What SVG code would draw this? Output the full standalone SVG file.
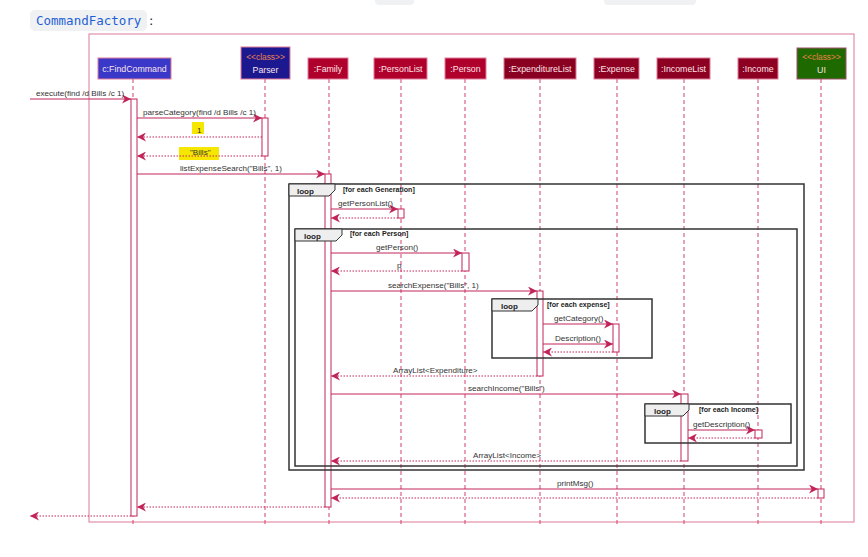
<svg xmlns="http://www.w3.org/2000/svg" width="868" height="557" viewBox="0 0 868 557">
<defs>
<style>
.msg{font-family:"Liberation Sans",Arial,sans-serif;font-size:8.1px;fill:#333}
.pt{font-family:"Liberation Sans",Arial,sans-serif;font-size:8.8px;fill:#fbe3e8;text-anchor:middle}
.st{font-family:"Liberation Sans",Arial,sans-serif;font-size:8.4px;fill:#e8804a;text-anchor:middle}
.ll{stroke:#d2426c;stroke-width:1;stroke-dasharray:4,3;fill:none}
.act{fill:#fff;stroke:#c2245a;stroke-width:1}
.sol{stroke:#c2245a;stroke-width:1;fill:none}
.ret{stroke:#c2245a;stroke-width:1;stroke-dasharray:1.5,1.5;fill:none}
.loop{fill:none;stroke:#333;stroke-width:1.5}
.tab{fill:#eee;stroke:#333;stroke-width:1}
.lt{font-family:"Liberation Sans",Arial,sans-serif;font-size:8px;font-weight:bold;fill:#222}
.gt{font-family:"Liberation Sans",Arial,sans-serif;font-size:7.1px;font-weight:bold;fill:#222}
.box{stroke:#e07a9a;stroke-width:1}
</style>
<marker id="ah" viewBox="0 0 10 10" refX="10" refY="5" markerWidth="9" markerHeight="9" markerUnits="userSpaceOnUse" orient="auto">
<path d="M0,0 L10,5 L0,10 L3,5 Z" fill="#c2245a"/>
</marker>
</defs>
<rect width="868" height="557" fill="#fff"/>
<!-- partial text above -->
<rect x="375" y="-10" width="39" height="15" rx="4" fill="#eff1f3"/>
<rect x="604" y="-10" width="92" height="15" rx="4" fill="#eff1f3"/>
<rect x="30" y="10" width="117" height="21" rx="5" fill="#eff1f3"/>
<text x="36" y="25" style="font-family:'DejaVu Sans Mono','Liberation Mono',monospace;font-size:12.5px;fill:#1f5fd6">CommandFactory</text>
<text x="149" y="25" style="font-family:'DejaVu Sans','Liberation Sans',sans-serif;font-size:13px;fill:#222">:</text>
<!-- frame -->
<rect x="89" y="34" width="765" height="488" fill="none" stroke="#e090a8" stroke-width="1.2"/>
<!-- lifelines -->
<g id="lifelines">
<line class="ll" x1="133" y1="79" x2="133" y2="524"/>
<line class="ll" x1="265" y1="79" x2="265" y2="524"/>
<line class="ll" x1="329" y1="79" x2="329" y2="524"/>
<line class="ll" x1="401" y1="79" x2="401" y2="524"/>
<line class="ll" x1="465" y1="79" x2="465" y2="524"/>
<line class="ll" x1="540" y1="79" x2="540" y2="524"/>
<line class="ll" x1="617" y1="79" x2="617" y2="524"/>
<line class="ll" x1="684" y1="79" x2="684" y2="524"/>
<line class="ll" x1="758" y1="79" x2="758" y2="524"/>
<line class="ll" x1="821" y1="79" x2="821" y2="524"/>
</g>
<!-- participants -->
<g id="findcommand"><rect class="box" x="98" y="58" width="73" height="21" fill="#3a38c8"/><text class="pt" x="134.5" y="71.5">c:FindCommand</text></g>
<g id="parser"><rect class="box" x="241" y="47" width="49" height="32" fill="#1c1890"/><text class="st" x="265.5" y="60">&lt;&lt;class&gt;&gt;</text><text class="pt" x="265.5" y="72.5">Parser</text></g>
<g id="family"><rect class="box" x="308" y="58" width="40" height="21" fill="#b0002c"/><text class="pt" x="328" y="71.5">:Family</text></g>
<g id="personlist"><rect class="box" x="374" y="58" width="53" height="21" fill="#b0002c"/><text class="pt" x="400.5" y="71.5">:PersonList</text></g>
<g id="person"><rect class="box" x="445" y="58" width="41" height="21" fill="#b0002c"/><text class="pt" x="465.5" y="71.5">:Person</text></g>
<g id="expenditurelist"><rect class="box" x="504" y="58" width="72" height="21" fill="#8a0020"/><text class="pt" x="540" y="71.5">:ExpenditureList</text></g>
<g id="expense"><rect class="box" x="594" y="58" width="45" height="21" fill="#8e0022"/><text class="pt" x="616.5" y="71.5">:Expense</text></g>
<g id="incomelist"><rect class="box" x="657" y="58" width="53" height="21" fill="#8e0022"/><text class="pt" x="683.5" y="71.5">:IncomeList</text></g>
<g id="income"><rect class="box" x="738" y="58" width="40" height="21" fill="#8e0022"/><text class="pt" x="758" y="71.5">:Income</text></g>
<g id="ui"><rect x="797" y="48" width="49" height="31" fill="#1e6a00" stroke="#a0506a" stroke-width="1"/><text class="st" x="821.5" y="60">&lt;&lt;class&gt;&gt;</text><text class="pt" x="821.5" y="72.5">UI</text></g>
<!-- activations -->
<g id="activations">
<rect class="act" x="131" y="99" width="6" height="417"/>
<rect class="act" x="262" y="118" width="6" height="38"/>
<rect class="act" x="325" y="174" width="6" height="333"/>
<rect class="act" x="398" y="209" width="6" height="9"/>
<rect class="act" x="462" y="253" width="7" height="18"/>
<rect class="act" x="537" y="291" width="6" height="85"/>
<rect class="act" x="613" y="324" width="6" height="28"/>
<rect class="act" x="681" y="394" width="7" height="67"/>
<rect class="act" x="755" y="430" width="7" height="8"/>
<rect class="act" x="818" y="489" width="6" height="9"/>
</g>
<!-- loops -->
<g id="loop1"><rect class="loop" x="289" y="184" width="515" height="286"/><path class="tab" d="M289,184 H335 V190 L329,196 H289 Z"/><text class="lt" x="297" y="193.5">loop</text><text class="gt" x="343" y="192">[for each Generation]</text></g>
<g id="loop2"><rect class="loop" x="295" y="229" width="502" height="237"/><path class="tab" d="M295,229 H342 V235 L336,241 H295 Z"/><text class="lt" x="304" y="238.5">loop</text><text class="gt" x="350" y="236">[for each Person]</text></g>
<g id="loop3"><rect class="loop" x="492" y="299" width="160" height="59"/><path class="tab" d="M492,299 H538 V305 L532,311 H492 Z"/><text class="lt" x="501" y="308.5">loop</text><text class="gt" x="547" y="307">[for each expense]</text></g>
<g id="loop4"><rect class="loop" x="645" y="404" width="146" height="39"/><path class="tab" d="M645,404 H689 V410 L683,416 H645 Z"/><text class="lt" x="654" y="413.5">loop</text><text class="gt" x="699" y="412">[for each Income]</text></g>
<!-- highlights -->
<rect x="192" y="122" width="12" height="12" fill="#f5e700"/>
<rect x="179" y="147" width="40" height="13" fill="#f5e700"/>
<!-- connectors -->
<g id="connectors">
<line class="sol" x1="30" y1="99" x2="131" y2="99" marker-end="url(#ah)"/>
<text class="msg" x="36" y="96">execute(find /d Bills /c 1)</text>
<line class="sol" x1="137" y1="118" x2="262" y2="118" marker-end="url(#ah)"/>
<text class="msg" x="143" y="115">parseCategory(find /d Bills /c 1)</text>
<line class="ret" x1="262" y1="137" x2="137" y2="137" marker-end="url(#ah)"/>
<text class="msg" x="197" y="133">1</text>
<line class="ret" x1="262" y1="156" x2="137" y2="156" marker-end="url(#ah)"/>
<text class="msg" x="190" y="155">"Bills"</text>
<line class="sol" x1="137" y1="174" x2="325" y2="174" marker-end="url(#ah)"/>
<text class="msg" x="180" y="171">listExpenseSearch("Bills", 1)</text>
<line class="sol" x1="331" y1="209" x2="398" y2="209" marker-end="url(#ah)"/>
<text class="msg" x="338" y="206">getPersonList()</text>
<line class="ret" x1="398" y1="218" x2="331" y2="218" marker-end="url(#ah)"/>
<line class="sol" x1="331" y1="253" x2="462" y2="253" marker-end="url(#ah)"/>
<text class="msg" x="376" y="250">getPerson()</text>
<line class="ret" x1="462" y1="271" x2="331" y2="271" marker-end="url(#ah)"/>
<text class="msg" x="397" y="268">p</text>
<line class="sol" x1="331" y1="291" x2="537" y2="291" marker-end="url(#ah)"/>
<text class="msg" x="388" y="288">searchExpense("Bills", 1)</text>
<line class="sol" x1="543" y1="324" x2="613" y2="324" marker-end="url(#ah)"/>
<text class="msg" x="554" y="321">getCategory()</text>
<line class="sol" x1="543" y1="344" x2="613" y2="344" marker-end="url(#ah)"/>
<text class="msg" x="555" y="341">Description()</text>
<line class="ret" x1="613" y1="352" x2="543" y2="352" marker-end="url(#ah)"/>
<line class="ret" x1="537" y1="376" x2="331" y2="376" marker-end="url(#ah)"/>
<text class="msg" x="393" y="373">ArrayList&lt;Expenditure&gt;</text>
<line class="sol" x1="331" y1="394" x2="681" y2="394" marker-end="url(#ah)"/>
<text class="msg" x="468" y="391">searchIncome("Bills")</text>
<line class="sol" x1="688" y1="430" x2="755" y2="430" marker-end="url(#ah)"/>
<text class="msg" x="693" y="427">getDescription()</text>
<line class="ret" x1="755" y1="438" x2="688" y2="438" marker-end="url(#ah)"/>
<line class="ret" x1="681" y1="461" x2="331" y2="461" marker-end="url(#ah)"/>
<text class="msg" x="473" y="458">ArrayList&lt;Income&gt;</text>
<line class="sol" x1="331" y1="489" x2="818" y2="489" marker-end="url(#ah)"/>
<text class="msg" x="557" y="486">printMsg()</text>
<line class="ret" x1="818" y1="498" x2="331" y2="498" marker-end="url(#ah)"/>
<line class="ret" x1="325" y1="507" x2="137" y2="507" marker-end="url(#ah)"/>
<line class="ret" x1="131" y1="516" x2="30" y2="516" marker-end="url(#ah)"/>
</g>
</svg>
